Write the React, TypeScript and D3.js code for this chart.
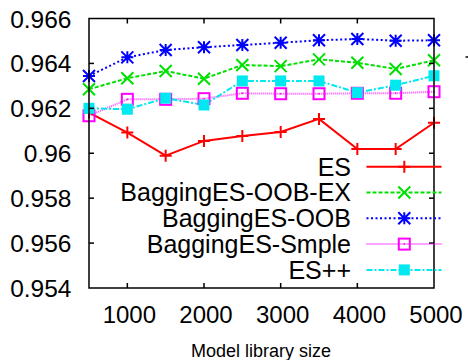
import React from "react";
import * as d3 from "d3";

// model library sizes on the x axis
const sizes = [500, 1000, 1500, 2000, 2500, 3000, 3500, 4000, 4500, 5000];

// accuracy per method
const esValues = [0.96181, 0.96092, 0.95989, 0.96055, 0.96077, 0.96095, 0.96153, 0.96019, 0.96019, 0.96136];
const oobExValues = [0.96285, 0.96334, 0.96366, 0.96332, 0.96393, 0.96388, 0.96418, 0.96403, 0.96375, 0.96414];
const oobValues = [0.96344, 0.96427, 0.9646, 0.96472, 0.96482, 0.96492, 0.96503, 0.96509, 0.96501, 0.96503];
const smpleValues = [0.96167, 0.9624, 0.9624, 0.96243, 0.96267, 0.96265, 0.96265, 0.96267, 0.96267, 0.96274];
const esppValues = [0.962, 0.96196, 0.96245, 0.96215, 0.96322, 0.96322, 0.96322, 0.9627, 0.96303, 0.96345];

const yTicks = [0.954, 0.956, 0.958, 0.96, 0.962, 0.964, 0.966];
const yTickLabels = ["0.954", "0.956", "0.958", "0.96", "0.962", "0.964", "0.966"];
const xTicks = [1000, 2000, 3000, 4000, 5000];
const xTickLabels = ["1000", "2000", "3000", "4000", "5000"];

const series = [
  { name: "ES", values: esValues, color: "#ff0000", dash: "none", marker: "plus", opacity: 1 },
  { name: "BaggingES-OOB-EX", values: oobExValues, color: "#00e000", dash: "4,2", marker: "cross", opacity: 1 },
  { name: "BaggingES-OOB", values: oobValues, color: "#0000ff", dash: "2,2.5", marker: "star", opacity: 1 },
  { name: "BaggingES-Smple", values: smpleValues, color: "#ff00ff", dash: "1,1", marker: "box", opacity: 0.7 },
  { name: "ES++", values: esppValues, color: "#00e8f0", dash: "6,2,2,2", marker: "fbox", opacity: 1 },
];

const W = 468;
const H = 360;
const left = 89;
const right = 434;
const top = 18.5;
const bottom = 288;
const font = "'Liberation Sans', Arial, sans-serif";

function Marker({ type, x, y, color }: { type: string; x: number; y: number; color: string }) {
  const s = 6;
  if (type === "plus") {
    return (
      <path d={`M${x - s},${y}H${x + s}M${x},${y - s}V${y + s}`} stroke={color} strokeWidth={2} fill="none" />
    );
  }
  if (type === "cross") {
    return (
      <path d={`M${x - s},${y - s}L${x + s},${y + s}M${x - s},${y + s}L${x + s},${y - s}`} stroke={color} strokeWidth={2} fill="none" />
    );
  }
  if (type === "star") {
    return (
      <path
        d={`M${x - s},${y}H${x + s}M${x},${y - s}V${y + s}M${x - s},${y - s}L${x + s},${y + s}M${x - s},${y + s}L${x + s},${y - s}`}
        stroke={color}
        strokeWidth={2}
        fill="none"
      />
    );
  }
  if (type === "box") {
    return (
      <g>
        <rect x={x - 5.5} y={y - 5.5} width={11} height={11} stroke={color} strokeWidth={2} fill="none" />
        <rect x={x - 0.75} y={y - 0.75} width={1.5} height={1.5} fill={color} />
      </g>
    );
  }
  return <rect x={x - 5.5} y={y - 5.5} width={11} height={11} fill={color} />;
}

export default function App() {
  const x = d3.scaleLinear().domain([500, 5000]).range([left, right]);
  const y = d3.scaleLinear().domain([0.954, 0.966]).range([bottom, top]);
  const line = d3
    .line<number>()
    .x((_, i) => x(sizes[i]))
    .y((d) => y(d));

  const legendY = d3.scaleLinear().domain([0, 1]).range([166.7, 192.5]);

  return (
    <svg
      width={W}
      height={H}
      style={{ position: "absolute", left: 0, top: 0, background: "#fff" }}
      fontFamily={font}
    >
      {/* series lines */}
      {series.map((s) => (
        <path
          key={s.name}
          d={line(s.values) || ""}
          fill="none"
          stroke={s.color}
          strokeWidth={2}
          strokeDasharray={s.dash}
          opacity={s.opacity}
        />
      ))}
      {series.map((s) =>
        s.values.map((v, i) => (
          <Marker key={s.name + i} type={s.marker} x={x(sizes[i])} y={y(v)} color={s.color} />
        ))
      )}

      {/* frame */}
      <rect x={left} y={top} width={right - left} height={bottom - top} fill="none" stroke="#000" strokeWidth={1.5} />

      {/* y ticks */}
      {yTicks.map((t, i) => (
        <g key={t}>
          {i > 0 && i < yTicks.length - 1 && (
            <>
              <line x1={left} x2={left + 5} y1={y(t)} y2={y(t)} stroke="#000" strokeWidth={1.5} />
              <line x1={right - 5} x2={right} y1={y(t)} y2={y(t)} stroke="#000" strokeWidth={1.5} />
            </>
          )}
          <text x={71.5} y={y(t) + 9} textAnchor="end" fontSize={24.5} fill="#000">
            {yTickLabels[i]}
          </text>
        </g>
      ))}

      {/* x ticks */}
      {xTicks.map((t, i) => (
        <g key={t}>
          {t < 5000 && (
            <>
              <line x1={x(t)} x2={x(t)} y1={bottom} y2={bottom - 5} stroke="#000" strokeWidth={1.5} />
              <line x1={x(t)} x2={x(t)} y1={top} y2={top + 5} stroke="#000" strokeWidth={1.5} />
            </>
          )}
          <text x={x(t) + 2} y={322.5} textAnchor="middle" fontSize={24} fill="#000">
            {xTickLabels[i]}
          </text>
        </g>
      ))}

      <text x={261} y={357} textAnchor="middle" fontSize={18} fill="#000">
        Model library size
      </text>

      {/* legend */}
      {series.map((s, i) => {
        const ly = legendY(i);
        return (
          <g key={"lg" + s.name}>
            <text x={351} y={ly + 8.8} textAnchor="end" fontSize={25} fill="#000">
              {s.name}
            </text>
            <line
              x1={366.5}
              x2={441.5}
              y1={ly}
              y2={ly}
              stroke={s.color}
              strokeWidth={2}
              strokeDasharray={s.dash}
              opacity={s.opacity}
            />
            <Marker type={s.marker} x={404.3} y={ly} color={s.color} />
          </g>
        );
      })}

      {/* stray mark at right edge */}
      <line x1={465.5} x2={468} y1={57} y2={57} stroke="#000" strokeWidth={1.5} />
    </svg>
  );
}
